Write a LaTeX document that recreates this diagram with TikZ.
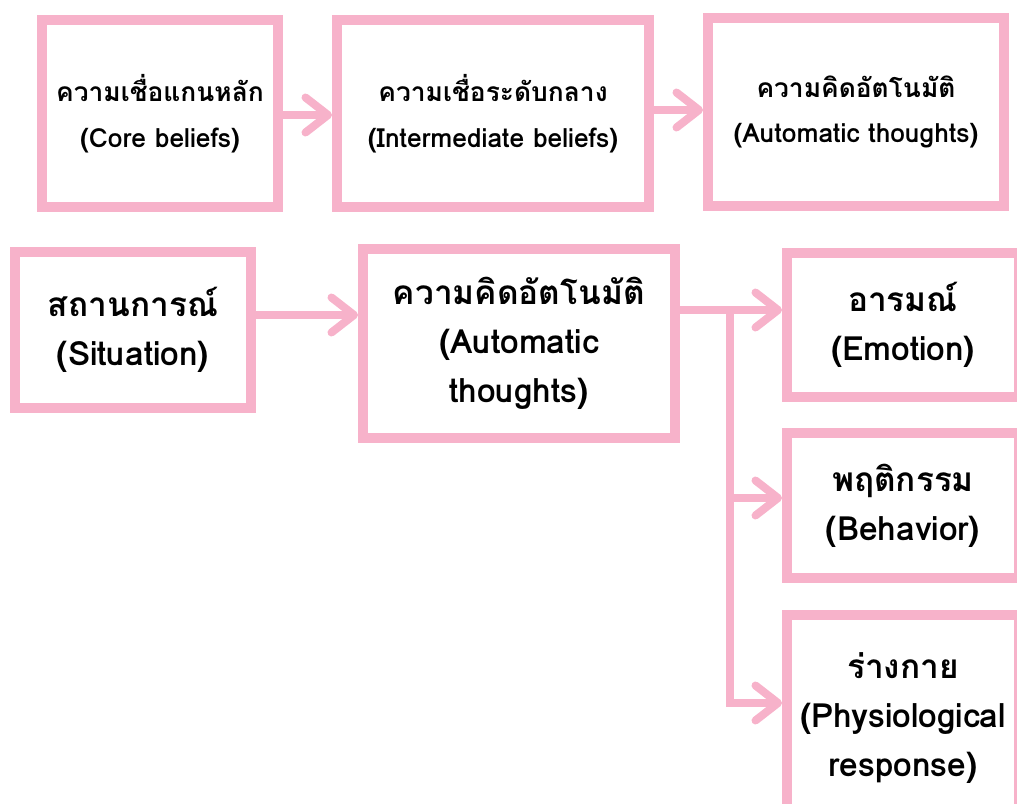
\documentclass[tikz,border=0pt]{standalone}
\usepackage{fontspec}
\setmainfont[Script=Thai]{Loma}
\usetikzlibrary{positioning,arrows.meta}
\definecolor{pastelpink}{RGB}{247,178,202}

\begin{document}
\begin{tikzpicture}[every node/.style={draw=pastelpink, line width=0.2cm, rectangle, align=center},
  toprow/.style={font=\bfseries\fontsize{15}{26}\selectfont},
  lowrow/.style={font=\bfseries\fontsize{19}{28}\selectfont},
  flow/.style={draw=pastelpink, line width=0.16cm, -{Straight Barb[length=0.45cm,width=0.7cm,round]}}]
            \path[use as bounding box, clip] (0,0) rectangle (20.34,-16.08);
            % upper chain
            \node[toprow, minimum width=4.72cm, minimum height=3.74cm] (core) at (3.2,-2.27) {ความเชื่อแกนหลัก\\(Core beliefs)};
            \node[toprow, minimum width=6.24cm, minimum height=3.74cm] (inter) at (9.86,-2.27) {ความเชื่อระดับกลาง\\(Intermediate beliefs)};
            \node[toprow, minimum width=5.92cm, minimum height=3.76cm] (autotop) at (17.12,-2.24) {ความคิดอัตโนมัติ\\(Automatic thoughts)};
            % lower model
            \node[lowrow, minimum width=4.72cm, minimum height=3.12cm] (sit) at (2.66,-6.6) {สถานการณ์\\(Situation)};
            \node[lowrow, minimum width=6.24cm, minimum height=3.78cm] (auto) at (10.38,-6.87) {ความคิดอัตโนมัติ\\(Automatic\\thoughts)};
            \node[lowrow, minimum width=4.64cm, minimum height=2.88cm] (emo) at (18.06,-6.5) {อารมณ์\\(Emotion)};
            \node[lowrow, minimum width=4.64cm, minimum height=2.9cm] (beh) at (18.06,-10.11) {พฤติกรรม\\(Behavior)};
            \node[lowrow, minimum width=4.64cm, minimum height=4.12cm] (phy) at (18.06,-14.36) {ร่างกาย\\(Physiological\\response)};
            \coordinate (fork) at (14.6,-6.2);
            \coordinate (forkend) at (14.6,-14.06);

            \draw[flow] (core.east |- 0,-2.3) -- (inter.west |- 0,-2.3);
            \draw[flow] (inter.east |- 0,-2.2) -- (autotop.west |- 0,-2.2);
            \draw[flow] (sit.east |- 0,-6.3) -- (auto.west |- 0,-6.3);
            \draw[flow] (auto.east |- fork) -- (emo.west |- fork);
            \draw[flow] (fork |- 0,-9.96) -- (beh.west |- 0,-9.96);
            \draw[flow, line join=miter] (fork) |- (phy.west |- forkend);
        \end{tikzpicture}
\end{document}
